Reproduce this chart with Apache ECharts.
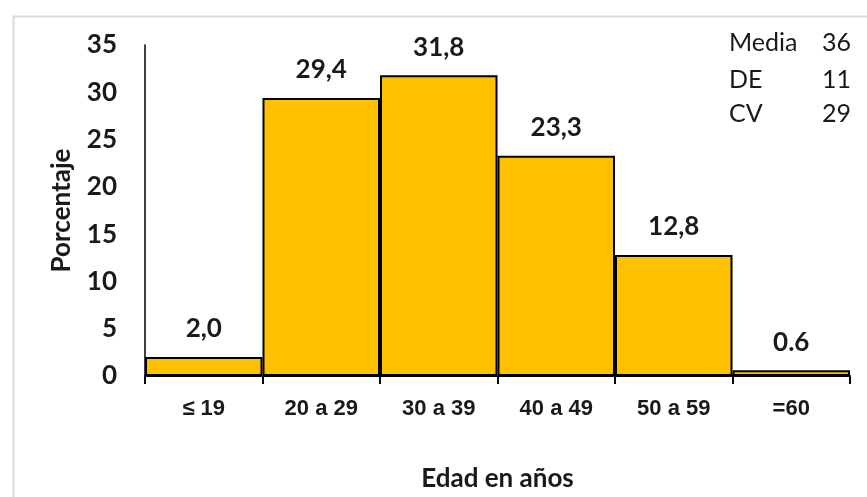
<!DOCTYPE html>
<html>
<head>
<meta charset="utf-8">
<script src="https://cdn.jsdelivr.net/npm/echarts@6/dist/echarts.min.js"></script>
<style>
  html, body { margin: 0; padding: 0; background: #ffffff; }
  #chart { width: 867px; height: 497px; }
</style>
</head>
<body>
<div id="chart"></div>
<script>
// Age groups and share of respondents (%)
const categories = ['≤ 19', '20 a 29', '30 a 39', '40 a 49', '50 a 59', '=60'];
const percentages = [2.0, 29.4, 31.8, 23.3, 12.8, 0.6];
const valueLabels = ['2,0', '29,4', '31,8', '23,3', '12,8', '0.6'];

// Summary statistics shown in the corner
const statNames = ['Media', 'DE', 'CV'];
const statValues = ['36', '11', '29'];

const yTicks = { min: 0, max: 35, interval: 5 };

const chart = echarts.init(document.getElementById('chart'), null, { renderer: 'canvas' });

const statGraphics = [];
const statTop = [30, 67, 101];
statNames.forEach((name, i) => {
  statGraphics.push({
    type: 'text', left: 729, top: statTop[i],
    style: { text: name, font: '25px Lato', fill: '#1a1a1a' }
  });
  statGraphics.push({
    type: 'text', left: 822, top: statTop[i],
    style: { text: statValues[i], font: '25px Lato', fill: '#1a1a1a' }
  });
});

chart.setOption({
  animation: false,
  backgroundColor: '#ffffff',
  grid: { left: 145, right: 17, top: 45, bottom: 116, containLabel: false },
  xAxis: {
    type: 'category',
    data: categories,
    boundaryGap: true,
    name: 'Edad en años',
    nameLocation: 'middle',
    nameGap: 90,
    nameTextStyle: { fontFamily: 'Lato', fontWeight: 'bold', fontSize: 26, color: '#1a1a1a' },
    axisLine: { lineStyle: { color: '#000000', width: 2 } },
    axisTick: { show: true, alignWithLabel: false, length: 8, lineStyle: { color: '#000000', width: 2 } },
    axisLabel: {
      margin: 22,
      fontFamily: '"Liberation Sans", Arial',
      fontWeight: 'bold', fontSize: 22, color: '#1a1a1a'
    },
    splitLine: { show: false }
  },
  yAxis: {
    type: 'value',
    min: yTicks.min, max: yTicks.max, interval: yTicks.interval,
    name: 'Porcentaje',
    nameLocation: 'middle',
    nameGap: 70,
    nameRotate: 90,
    nameTextStyle: { fontFamily: 'Lato', fontWeight: 'bold', fontSize: 26, color: '#1a1a1a' },
    axisLine: { show: true, lineStyle: { color: '#000000', width: 1.5 } },
    axisTick: { show: false },
    axisLabel: { margin: 28, fontFamily: 'Lato', fontWeight: 'bold', fontSize: 26, color: '#1a1a1a' },
    splitLine: { show: false }
  },
  series: [{
    type: 'bar',
    data: percentages,
    barCategoryGap: '0%',
    itemStyle: { color: '#FFC000', borderColor: '#000000', borderWidth: 2 },
    label: {
      show: true,
      position: 'top',
      distance: 15,
      formatter: p => valueLabels[p.dataIndex],
      fontFamily: 'Lato', fontWeight: 'bold', fontSize: 26, color: '#1a1a1a'
    }
  }],
  graphic: [
    {
      type: 'rect', left: 11, top: 14, silent: true, z: -1,
      shape: { width: 900, height: 520 },
      style: { fill: 'none', stroke: '#d9d9d9', lineWidth: 2 }
    }
  ].concat(statGraphics)
});
</script>
</body>
</html>
